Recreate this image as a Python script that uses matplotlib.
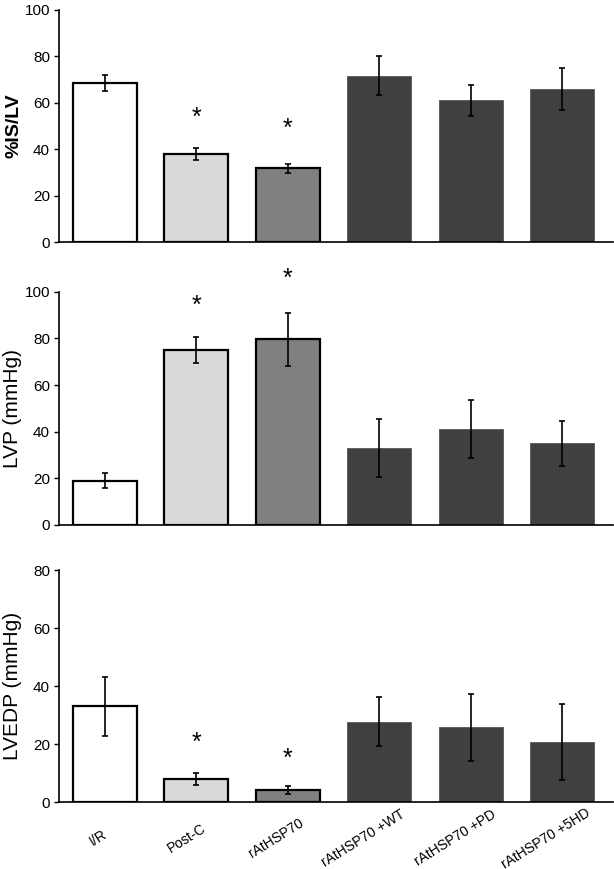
import matplotlib
matplotlib.use("Agg")
import matplotlib.pyplot as plt
from matplotlib.transforms import ScaledTranslation

plt.rcParams['font.family'] = ['Liberation Sans', 'DejaVu Sans']

groups = ["I/R", "Post-C", "rAtHSP70", "rAtHSP70 +WT", "rAtHSP70 +PD", "rAtHSP70 +5HD"]
colors = ["#ffffff", "#d9d9d9", "#808080", "#404040", "#404040", "#404040"]

# %IS/LV
is_mean = [68.5, 38.0, 31.8, 71.7, 61.0, 66.0]
is_err = [3.5, 2.5, 2.0, 8.3, 6.5, 9.0]
is_star = [None, 53.5, 48.8, None, None, None]

# LVP
lvp_mean = [19.0, 74.9, 79.6, 33.0, 41.0, 35.0]
lvp_err = [3.3, 5.5, 11.3, 12.5, 12.5, 9.6]
lvp_star = [None, 93.8, 105.5, None, None, None]

# LVEDP
lvedp_mean = [33.0, 8.1, 4.2, 27.8, 25.8, 20.8]
lvedp_err = [10.0, 2.0, 1.3, 8.3, 11.6, 13.2]
lvedp_star = [None, 20.5, 15.0, None, None, None]

panels = [
    (is_mean, is_err, is_star, "%IS/LV", 100, "bold", 14),
    (lvp_mean, lvp_err, lvp_star, "LVP (mmHg)", 100, "normal", 15),
    (lvedp_mean, lvedp_err, lvedp_star, "LVEDP (mmHg)", 80, "normal", 15),
]

fig = plt.figure(figsize=(6.14, 8.69), dpi=100)
rects = [[0.096, 0.7215, 0.902, 0.267],
         [0.096, 0.3959, 0.902, 0.2684],
         [0.096, 0.0768, 0.902, 0.2672]]

x = list(range(len(groups)))
for k, (rect, (mean, err, star, label, ymax, weight, lsize)) in enumerate(zip(rects, panels)):
    ax = fig.add_axes(rect)
    edges = ["black", "black", "black", "#555555", "#555555", "#555555"]
    lws = [1.6, 1.6, 1.6, 0.6, 0.6, 0.6]
    ax.bar(x, mean, width=0.7, color=colors, edgecolor=edges, linewidth=lws, zorder=2)
    ax.errorbar(x, mean, yerr=err, fmt='none', ecolor='black', elinewidth=1.2,
                capsize=2.5, capthick=1.2, zorder=3)
    for i, s in enumerate(star):
        if s is not None:
            ax.text(i, s, "*", ha='center', va='center', fontsize=18, clip_on=False)
    ax.set_xlim(-0.5, 5.55)
    ax.set_ylim(0, ymax)
    ax.set_yticks(range(0, ymax + 1, 20))
    ax.tick_params(axis='y', direction='out', length=3.5, width=1, labelsize=11, pad=3)
    ax.spines['top'].set_visible(False)
    ax.spines['right'].set_visible(False)
    ax.spines['left'].set_linewidth(1.2)
    ax.spines['bottom'].set_linewidth(1.2)
    ax.set_ylabel(label, fontsize=lsize, fontweight=weight)
    ax.yaxis.set_label_coords(-0.066, 0.5)
    if k == 2:
        ax.set_xticks(x)
        ax.set_xticklabels(groups, rotation=32, ha='center', va='center',
                           rotation_mode='anchor', fontsize=10)
        ax.tick_params(axis='x', length=0, pad=26)
        for i, t in enumerate(ax.get_xticklabels()):
            shift = -(4 + 1.0 * len(groups[i])) / 100
            t.set_transform(t.get_transform() + ScaledTranslation(shift, 0, fig.dpi_scale_trans))
    else:
        ax.set_xticks([])

fig.savefig("out.png", dpi=100)
